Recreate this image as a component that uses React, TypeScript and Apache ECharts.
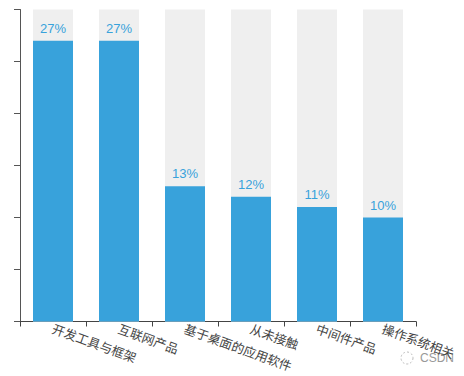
import React, { useEffect, useRef } from "react";
import * as echarts from "echarts";

const categories = ["开发工具与框架", "互联网产品", "基于桌面的应用软件", "从未接触", "中间件产品", "操作系统相关"];
const values = [27, 27, 13, 12, 11, 10];
const axisMin = 0;
const axisMax = 30;
const axisInterval = 5;

export default function App() {
  const ref = useRef<HTMLDivElement>(null);
  useEffect(() => {
    const chart = echarts.init(ref.current!, null, { renderer: "svg" });
    chart.setOption({
      animation: false,
      grid: { left: 20, top: 9.5, width: 396, height: 312, containLabel: false },
      xAxis: {
        type: "category",
        data: categories,
        axisLine: { lineStyle: { color: "#444", width: 1 } },
        axisTick: { show: true, alignWithLabel: false, length: 5, lineStyle: { color: "#444" } },
        axisLabel: {
          interval: 0,
          rotate: -20,
          color: "#444",
          fontSize: 12.6,
          margin: 6,
          fontFamily: "'Noto Sans CJK SC', sans-serif",
          hideOverlap: false,
        },
      },
      yAxis: {
        type: "value",
        min: axisMin,
        max: axisMax,
        interval: axisInterval,
        axisLine: { show: true, lineStyle: { color: "#555", width: 1 } },
        axisTick: { show: true, length: 6, lineStyle: { color: "#555" } },
        axisLabel: { show: false },
        splitLine: { show: false },
      },
      series: [
        {
          type: "bar",
          data: values,
          barWidth: 40,
          showBackground: true,
          backgroundStyle: { color: "#efefef" },
          itemStyle: { color: "#38a2db" },
          label: {
            show: true,
            position: "top",
            distance: 6,
            formatter: "{c}%",
            color: "#38a2db",
            fontSize: 13,
            fontFamily: "'Liberation Sans', Arial, sans-serif",
          },
        },
      ],
      graphic: [
        {
          type: "circle",
          shape: { cx: 407, cy: 358, r: 6 },
          style: { fill: "none", stroke: "#bbb", lineWidth: 1, lineDash: [2, 2] },
        },
        {
          type: "text",
          x: 420,
          y: 352,
          style: {
            text: "CSDN",
            fill: "#999",
            fontSize: 12,
            fontFamily: "'Liberation Sans', Arial, sans-serif",
          },
        },
      ],
    });
    return () => chart.dispose();
  }, []);
  return <div ref={ref} style={{ position: "absolute", left: 0, top: 0, width: 464, height: 376 }} />;
}
